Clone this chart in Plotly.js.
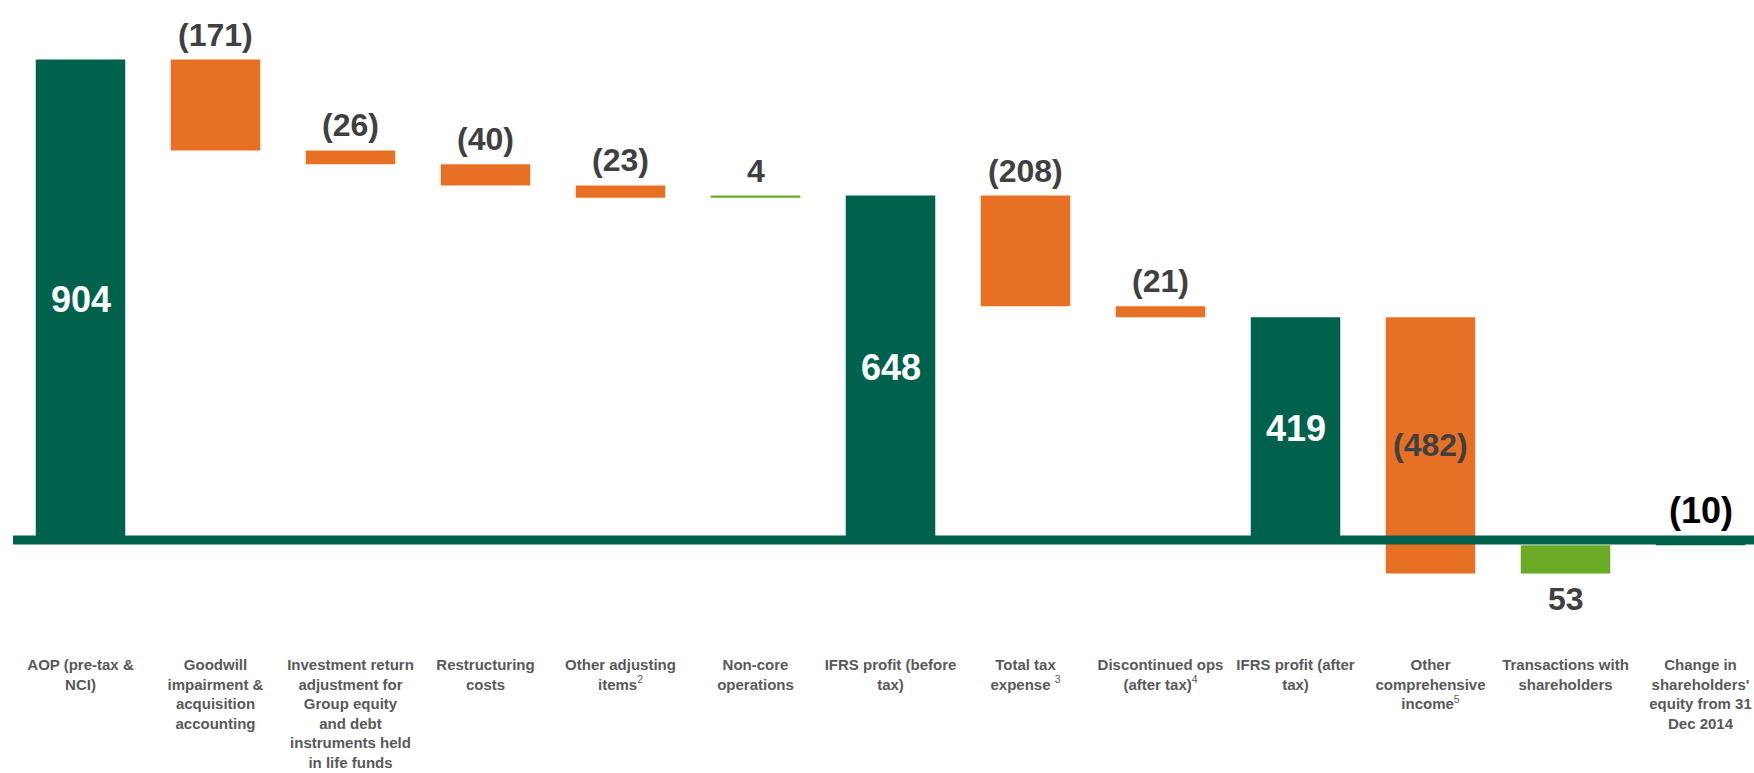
<!DOCTYPE html>
<html>
<head>
<meta charset="utf-8">
<script src="https://cdn.plot.ly/plotly-3.0.1.min.js"></script>
<style>
  html, body { margin: 0; padding: 0; background: #ffffff; }
  #chart { width: 1754px; height: 773px; }
</style>
</head>
<body>
<div id="chart"></div>
<script>
// ---- Data ----
const categories = [
  "AOP (pre-tax &<br>NCI)",
  "Goodwill<br>impairment &<br>acquisition<br>accounting",
  "Investment return<br>adjustment for<br>Group equity<br>and debt<br>instruments held<br>in life funds",
  "Restructuring<br>costs",
  "Other adjusting<br>items<span style=\"font-weight:normal\"><sup>2</sup></span>",
  "Non-core<br>operations",
  "IFRS profit (before<br>tax)",
  "Total tax<br>expense <span style=\"font-weight:normal\"><sup>3</sup></span>",
  "Discontinued ops<br>(after tax)<span style=\"font-weight:normal\"><sup>4</sup></span>",
  "IFRS profit (after<br>tax)",
  "Other<br>comprehensive<br>income<span style=\"font-weight:normal\"><sup>5</sup></span>",
  "Transactions with<br>shareholders",
  "Change in<br>shareholders'<br>equity from 31<br>Dec 2014"
];
const values = [904, -171, -26, -40, -23, 4, 648, -208, -21, 419, -482, 53, -10];
const measures = ["absolute", "relative", "relative", "relative", "relative", "relative",
                  "total", "relative", "relative", "total", "relative", "relative", "total"];

// ---- Style ----
const DARK_GREEN = "#00624D";
const ORANGE = "#E87025";
const LIGHT_GREEN = "#6BAA24";
const LABEL_GRAY = "#404040";
const FONT = "'Liberation Sans', Arial, sans-serif";
// label placement per bar (style only)
const labelPlace = ["inside", "above", "above", "above", "above", "above",
                    "inside", "above", "above", "inside", "inside", "below", "above"];

function fmt(v) { return v < 0 ? "(" + Math.abs(v) + ")" : String(v); }

// compute bar extents from the data (same logic as the waterfall)
let running = 0;
const starts = [], ends = [];
values.forEach((v, i) => {
  const m = measures[i];
  if (m === "absolute") { starts.push(0); ends.push(v); running = v; }
  else if (m === "relative") { starts.push(running); ends.push(running + v); running += v; }
  else { starts.push(0); ends.push(running); }
});

const annotations = values.map((v, i) => {
  const place = labelPlace[i];
  const isTotal = measures[i] === "total" || measures[i] === "absolute";
  const a = {
    x: categories[i], xref: "x", yref: "y",
    text: fmt(v), showarrow: false,
    font: { family: FONT, size: 32, weight: "bold", color: LABEL_GRAY }
  };
  if (place === "inside") {
    a.y = (starts[i] + ends[i]) / 2;
    a.yanchor = "middle";
    if (isTotal) { a.font.color = "#ffffff"; a.font.size = 36; }
  } else if (place === "above") {
    a.y = Math.max(starts[i], ends[i]);
    a.yanchor = "bottom";
    a.yshift = 5;
    if (i === values.length - 1) { a.font.color = "#000000"; a.font.size = 36; a.yshift = 7; }
  } else {
    a.y = Math.min(starts[i], ends[i]);
    a.yanchor = "top";
    a.yshift = -6;
  }
  return a;
});

const trace = {
  type: "waterfall",
  x: categories,
  y: values,
  measure: measures,
  textinfo: "none",
  hoverinfo: "x+y",
  connector: { visible: false },
  increasing: { marker: { color: LIGHT_GREEN } },
  decreasing: { marker: { color: ORANGE } },
  totals: { marker: { color: DARK_GREEN } }
};

const PX_PER_UNIT = 0.5315;
const ZERO_Y = 540;      // pixel row of value 0
const PLOT_TOP = 0;
const PLOT_BOTTOM = 654;
const layout = {
  width: 1754,
  height: 773,
  margin: { l: 13, r: 0, t: PLOT_TOP, b: 773 - PLOT_BOTTOM, pad: 0 },
  paper_bgcolor: "#ffffff",
  plot_bgcolor: "#ffffff",
  showlegend: false,
  waterfallgap: 0.337,
  xaxis: {
    type: "category",
    range: [-0.5, -0.5 + 1741 / 135],
    autorange: false,
    showgrid: false, zeroline: false, showline: false,
    ticks: "",
    tickangle: 0,
    automargin: false,
    tickfont: { family: FONT, size: 15, weight: "bold", color: "#595959" }
  },
  yaxis: {
    visible: false,
    range: [-(PLOT_BOTTOM - ZERO_Y) / PX_PER_UNIT, (ZERO_Y - PLOT_TOP) / PX_PER_UNIT],
    autorange: false,
    showgrid: false, zeroline: false
  },
  shapes: [{
    type: "line", xref: "paper", yref: "y",
    x0: 0, x1: 1, y0: 0, y1: 0,
    layer: "above",
    line: { color: DARK_GREEN, width: 9 }
  }],
  annotations: annotations
};

Plotly.newPlot("chart", [trace], layout, { displayModeBar: false, staticPlot: true });
</script>
</body>
</html>
